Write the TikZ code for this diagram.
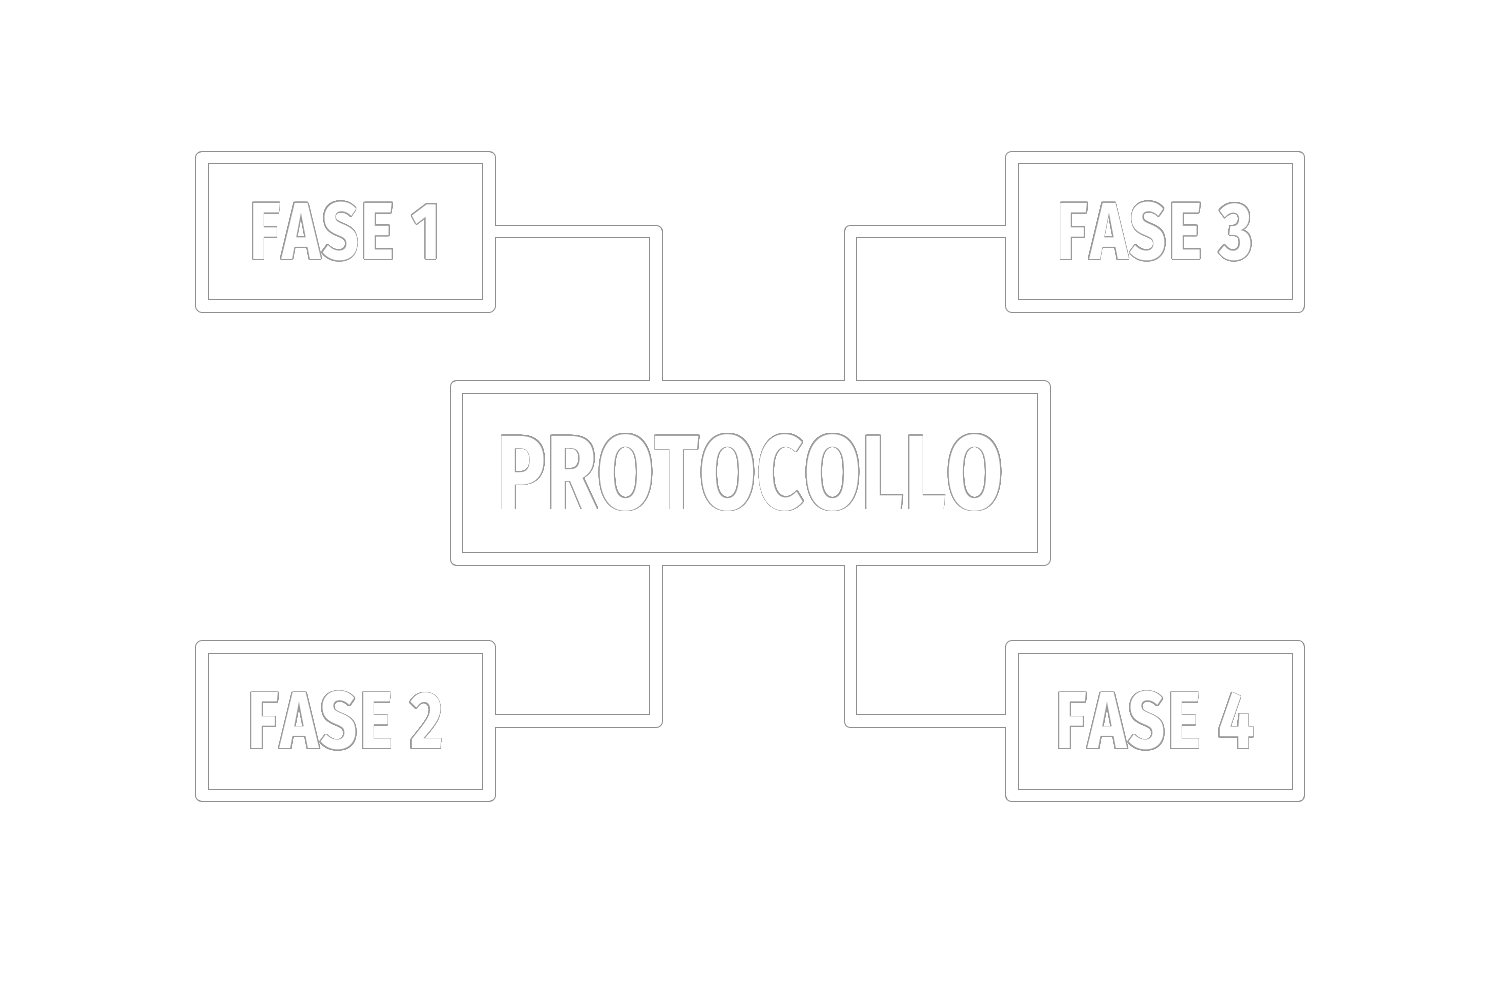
\documentclass[tikz,border=0pt]{standalone}
\usepackage{fontspec}
\newfontfamily\condfont{Fira Sans}[FakeStretch=0.8, Kerning=Off, LetterSpace=2]
\newfontfamily\hubfont{Fira Sans}[FakeStretch=0.78, Kerning=Off, LetterSpace=0.3]
\usepackage{contour}
\contourlength{0.22pt}
\contournumber{48}
\definecolor{edge}{HTML}{8E8E8E}
\definecolor{glyphedge}{HTML}{9A9A9A}
\tikzset{
  x=0.01cm, y=-0.01cm,
  slot/.style={minimum width=2.85cm, minimum height=1.467cm, inner sep=0pt, text=white,
    font=\condfont\bfseries\fontsize{23}{23}\selectfont},
  hub/.style={minimum width=5.855cm, minimum height=1.71cm, inner sep=0pt, text=white,
    font=\hubfont\bfseries\fontsize{30}{30}\selectfont},
  band/.style={line join=round, line cap=butt}
}
\begin{document}
\begin{tikzpicture}
\fill[white] (0,0) rectangle (1500,1000);
\useasboundingbox (0,0) rectangle (1500,1000);
\node[slot] (f1) at (345.5,231.65) {\contour{glyphedge}{FASE 1}};
\node[slot] (f3) at (1155,231.65) {\contour{glyphedge}{FASE 3}};
\node[slot] (f2) at (345.5,721.25) {\contour{glyphedge}{FASE 2}};
\node[slot] (f4) at (1155,721.25) {\contour{glyphedge}{FASE 4}};
\node[hub] (p) at (750.25,473) {\contour{glyphedge}{PROTOCOLLO}};
\foreach \c/\w in {edge/3.87pt, white/3.3pt}{
  \draw[band, draw=\c, line width=\w]
    (f1.south west) rectangle (f1.north east)
    (f2.south west) rectangle (f2.north east)
    (f3.south west) rectangle (f3.north east)
    (f4.south west) rectangle (f4.north east)
    (p.south west) rectangle (p.north east);
  \draw[band, draw=\c, line width=\w] (f1.east) -| ([xshift=-0.94cm]p.north);
  \draw[band, draw=\c, line width=\w] (f3.west) -| ([xshift=1.0cm]p.north);
  \draw[band, draw=\c, line width=\w] (f2.east) -| ([xshift=-0.94cm]p.south);
  \draw[band, draw=\c, line width=\w] (f4.west) -| ([xshift=1.0cm]p.south);
}
\end{tikzpicture}
\end{document}
